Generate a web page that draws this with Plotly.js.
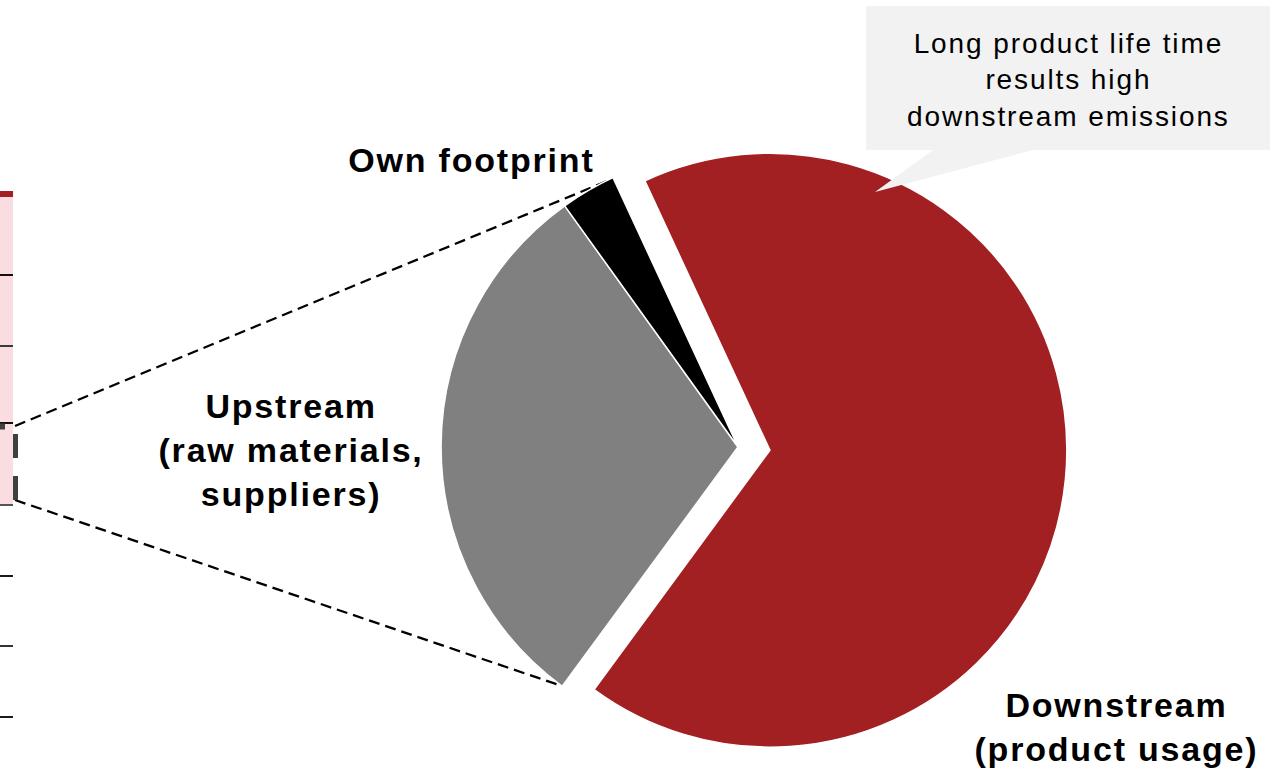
<!DOCTYPE html>
<html><head><meta charset="utf-8">
<script src="https://cdn.plot.ly/plotly-3.0.1.min.js"></script>
<style>
html,body{margin:0;padding:0;overflow:hidden;background:#fff}
.annotation[data-index="0"] .annotation-text,
.annotation[data-index="1"] .annotation-text,
.annotation[data-index="2"] .annotation-text{letter-spacing:1.8px}
.annotation[data-index="3"] .annotation-text{letter-spacing:1.9px}
</style>
</head><body>
<div id="chart" style="width:1278px;height:800px"></div>
<script>
// ---- data ----
const pieLabels = ['Downstream (product usage)', 'Upstream (raw materials, suppliers)', 'Own footprint'];
const pieValues = [67, 30, 3];
const pieColors = ['#A21F22', '#808080', '#000000'];
const piePull = [0.108, 0, 0];

// fragment of a stacked column cut by the left edge (bottom to top)
const barSegments = [82, 77, 71, 78, 6];
const barColors = ['#F9DDE0', '#F9DDE0', '#F9DDE0', '#F9DDE0', '#A21F22'];
const sepLineVals = [-212, -141, -71, 0, 82, 159, 230];
const sepLineColors = ['#1a1a1a', '#333333', '#1a1a1a', '#555555', '#111111', '#3a3a3a', '#111111'];

const labelOwn = '<b>Own footprint</b>';
const labelUp = '<b>Upstream<br>(raw materials,<br>suppliers)</b>';
const labelDown = '<b>Downstream<br>(product usage)</b>';
const calloutText = 'Long product life time<br>results high<br>downstream emissions';

// ---- helpers (pixel -> paper) ----
const W = 1278, H = 800;
const px = x => x / W;
const py = y => 1 - y / H;

const bases = [];
let acc = 0;
barSegments.forEach(v => { bases.push(acc); acc += v; });

const FONT = 'Liberation Sans, Arial, Helvetica, sans-serif';

const traces = [
  {
    type: 'bar',
    x: barSegments.map(() => 0),
    y: barSegments,
    base: bases,
    width: barSegments.map(() => 2.04),
    marker: {color: barColors, line: {width: 0}},
    xaxis: 'x', yaxis: 'y',
    hoverinfo: 'skip', showlegend: false
  },
  {
    type: 'pie',
    labels: pieLabels,
    values: pieValues,
    sort: false,
    direction: 'clockwise',
    rotation: -24.9,
    pull: piePull,
    marker: {colors: pieColors, line: {color: '#ffffff', width: 1.5}},
    textinfo: 'none',
    hoverinfo: 'skip',
    showlegend: false,
    domain: {x: [px(409), px(1067)], y: [py(776), py(118)]}
  }
];

const shapes = [];
sepLineVals.forEach((v, i) => {
  shapes.push({type: 'line', xref: 'paper', yref: 'y', x0: 0, x1: px(13), y0: v, y1: v,
    line: {color: sepLineColors[i], width: 2}, layer: 'above'});
});
// dashed bracket around exploded segment
shapes.push({type: 'line', xref: 'paper', yref: 'paper', x0: px(15.5), x1: px(15.5), y0: py(434), y1: py(500),
  line: {color: '#404040', width: 5, dash: '24px,18px'}, layer: 'above'});
shapes.push({type: 'line', xref: 'paper', yref: 'paper', x0: px(0), x1: px(5), y0: py(426.5), y1: py(426.5),
  line: {color: '#404040', width: 6}, layer: 'above'});
// connectors
shapes.push({type: 'line', xref: 'paper', yref: 'paper', x0: px(15), y0: py(426), x1: px(612), y1: py(179),
  line: {color: '#000000', width: 2.3, dash: '11px,6px'}, layer: 'below'});
shapes.push({type: 'line', xref: 'paper', yref: 'paper', x0: px(15), y0: py(500), x1: px(559), y1: py(685),
  line: {color: '#000000', width: 2.3, dash: '11px,6px'}, layer: 'below'});
// callout
const cp = [[866, 6], [1270, 6], [1270, 150], [1033, 150], [875, 192], [933, 150], [866, 150]];
shapes.push({type: 'path', xref: 'paper', yref: 'paper',
  path: 'M ' + cp.map(p => px(p[0]) + ',' + py(p[1])).join(' L ') + ' Z',
  fillcolor: '#F2F2F2', line: {width: 0}, layer: 'above'});

const annotations = [
  {text: labelOwn, x: px(471), y: py(160), xref: 'paper', yref: 'paper', showarrow: false,
   xanchor: 'center', yanchor: 'middle', font: {family: FONT, size: 34, color: '#000'}},
  {text: labelUp, x: px(291), y: py(450), xref: 'paper', yref: 'paper', showarrow: false,
   xanchor: 'center', yanchor: 'middle', align: 'center', font: {family: FONT, size: 34, color: '#000'}},
  {text: labelDown, x: px(1116), y: py(727), xref: 'paper', yref: 'paper', showarrow: false,
   xanchor: 'center', yanchor: 'middle', align: 'center', font: {family: FONT, size: 34, color: '#000'}},
  {text: calloutText, x: px(1068), y: py(80), xref: 'paper', yref: 'paper', showarrow: false,
   xanchor: 'center', yanchor: 'middle', align: 'center', font: {family: FONT, size: 28, color: '#000'}}
];

const layout = {
  width: W, height: H,
  margin: {l: 0, r: 0, t: 0, b: 0},
  paper_bgcolor: '#ffffff', plot_bgcolor: 'rgba(0,0,0,0)',
  showlegend: false,
  barmode: 'overlay',
  xaxis: {domain: [0, 0.1], range: [0, 10], visible: false, fixedrange: true},
  yaxis: {domain: [0, 1], range: [-295, 505], visible: false, fixedrange: true},
  shapes: shapes,
  annotations: annotations
};

Plotly.newPlot('chart', traces, layout, {displayModeBar: false, staticPlot: true});
</script>
</body></html>
